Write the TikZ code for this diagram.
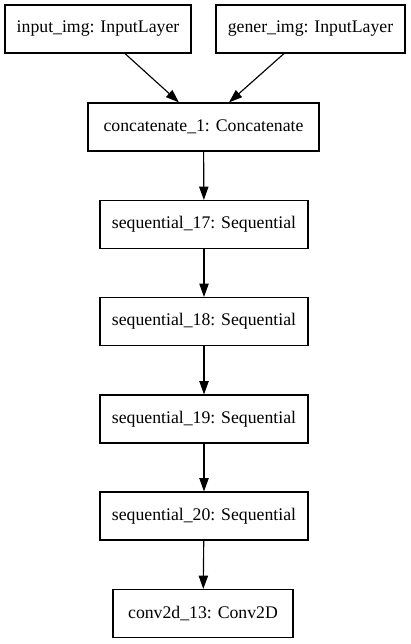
\documentclass[tikz,border=0pt]{standalone}
\usepackage{fontspec}
\setmainfont{Liberation Serif}
\usetikzlibrary{arrows.meta,calc}
\begin{document}
\begin{tikzpicture}[x=0.75pt,y=-0.75pt,
  layer/.style={draw=black,line width=0.85pt,minimum height=36pt,inner sep=0pt,
    font=\fontsize{13.3}{16}\selectfont},
  link/.style={line width=0.85pt,-{Triangle[length=10pt,width=7pt]}}]
\useasboundingbox (0,0) rectangle (411,644);
\node[layer,minimum width=139.5pt] (in) at (98,29) {input\_img: InputLayer};
\node[layer,minimum width=141.75pt] (ge) at (310.5,29) {gener\_img: InputLayer};
\node[layer,minimum width=173.25pt] (cat) at (203.5,127) {concatenate\_1: Concatenate};
\node[layer,minimum width=156pt] (s17) at (204,224.5) {sequential\_17: Sequential};
\node[layer,minimum width=156pt] (s18) at (204,321.5) {sequential\_18: Sequential};
\node[layer,minimum width=156pt] (s19) at (204,419) {sequential\_19: Sequential};
\node[layer,minimum width=156pt] (s20) at (204,516) {sequential\_20: Sequential};
\node[layer,minimum width=135pt] (cv) at (203,613.5) {conv2d\_13: Conv2D};
\draw[link] ($(in.south)+(27,0)$) -- ($(cat.north)+(-24.5,0)$);
\draw[link] ($(ge.south)+(-26.5,0)$) -- ($(cat.north)+(25.5,0)$);
\draw[link] (cat) -- (s17);
\draw[link] (s17) -- (s18);
\draw[link] (s18) -- (s19);
\draw[link] (s19) -- (s20);
\draw[link] (s20) -- (cv);
\end{tikzpicture}
\end{document}
